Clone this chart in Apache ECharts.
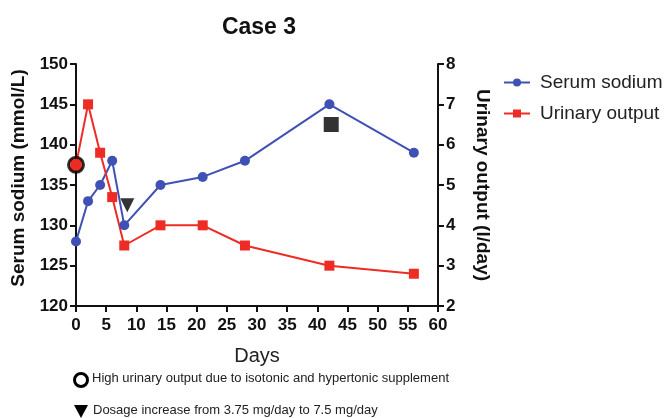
<!DOCTYPE html>
<html><head><meta charset="utf-8">
<script src="https://cdn.jsdelivr.net/npm/echarts@6/dist/echarts.min.js"></script>
<style>html,body{margin:0;padding:0;background:#fff}#c{width:670px;height:418px}</style>
</head><body><div id="c"></div>
<script>
const days = [0, 2, 4, 6, 8, 14, 21, 28, 42, 56];
const serumSodium = [128, 133, 135, 138, 130, 135, 136, 138, 145, 139];
const urinaryOutput = [5.5, 7.0, 5.8, 4.7, 3.5, 4.0, 4.0, 3.5, 3.0, 2.8];
const circleNote = [[0, 5.5]];          // on urinary-output axis
const triangleNote = [[8.5, 132.5]];    // on serum-sodium axis
const squareNote = [[42.3, 142.5]];     // on serum-sodium axis
const noteTexts = ['High urinary output due to isotonic and hypertonic supplement', 'Dosage increase from 3.75 mg/day to 7.5 mg/day'];

const FONT = '"Liberation Sans", Arial, sans-serif';
const BLUE = '#3f51b5', RED = '#ee2b24';
const chart = echarts.init(document.getElementById('c'));
const axisLineStyle = {show: true, lineStyle: {color: '#111', width: 2}};
const tick = {show: true, length: 6, lineStyle: {color: '#111', width: 2}};
const lbl = {fontFamily: FONT, fontSize: 17, fontWeight: 'bold', color: '#111', margin: 8};
chart.setOption({
  animation: false,
  title: {text: 'Case 3', left: 254, top: 11, textAlign: 'center',
    textStyle: {fontFamily: FONT, fontSize: 23, fontWeight: 'bold', color: '#111'}},
  grid: {left: 76, right: 232, top: 64, bottom: 112},
  legend: {orient: 'vertical', left: 498, top: 68, itemGap: 12, itemWidth: 26, itemHeight: 10,
    textStyle: {fontFamily: FONT, fontSize: 19, color: '#222', padding: [0, 0, 0, 5]},
    data: ['Serum sodium', 'Urinary output']},
  xAxis: {type: 'value', min: 0, max: 60, interval: 5,
    name: 'Days', nameLocation: 'middle', nameGap: 40,
    nameTextStyle: {fontFamily: FONT, fontSize: 20, color: '#222'},
    axisLine: axisLineStyle, axisTick: tick,
    axisLabel: Object.assign({}, lbl, {margin: 11}),
    splitLine: {show: false}},
  yAxis: [
    {type: 'value', min: 120, max: 150, interval: 5, position: 'left',
      name: 'Serum sodium (mmol/L)', nameLocation: 'middle', nameGap: 35, nameRotate: 90,
      nameTextStyle: {fontFamily: FONT, fontSize: 19, fontWeight: 'bold', color: '#111', padding: [0, 0, 0, 14]},
      axisLine: axisLineStyle, axisTick: tick, axisLabel: lbl,
      splitLine: {show: false}},
    {type: 'value', min: 2, max: 8, interval: 1, position: 'right',
      name: 'Urinary output (l/day)', nameLocation: 'middle', nameGap: 35, nameRotate: -90,
      nameTextStyle: {fontFamily: FONT, fontSize: 19, fontWeight: 'bold', color: '#111'},
      axisLine: axisLineStyle, axisTick: tick, axisLabel: lbl,
      splitLine: {show: false}}
  ],
  series: [
    {name: 'Serum sodium', type: 'line', yAxisIndex: 0, clip: false,
      data: days.map((d, i) => [d, serumSodium[i]]),
      symbol: 'circle', symbolSize: 10, itemStyle: {color: BLUE},
      lineStyle: {color: BLUE, width: 2}},
    {name: 'Urinary output', type: 'line', yAxisIndex: 1, clip: false,
      data: days.map((d, i) => [d, urinaryOutput[i]]),
      symbol: 'rect', symbolSize: 10, itemStyle: {color: RED},
      lineStyle: {color: RED, width: 2}},
    {type: 'scatter', yAxisIndex: 1, clip: false, data: circleNote, symbol: 'circle', symbolSize: 15,
      itemStyle: {color: RED, borderColor: '#000', borderWidth: 3}, z: 5},
    {type: 'scatter', yAxisIndex: 0, clip: false, data: triangleNote, symbol: 'triangle', symbolRotate: 180, symbolSize: 14,
      itemStyle: {color: '#000'}, z: 5},
    {type: 'scatter', yAxisIndex: 0, clip: false, data: squareNote, symbol: 'rect', symbolSize: 15,
      itemStyle: {color: '#000'}, z: 5}
  ],
  graphic: [
    {type: 'circle', shape: {cx: 81, cy: 380, r: 6.5}, style: {fill: 'none', stroke: '#000', lineWidth: 3}},
    {type: 'text', left: 92, top: 372, style: {text: noteTexts[0], font: '13px ' + FONT, fill: '#222'}},
    {type: 'polygon', shape: {points: [[74, 405], [88, 405], [81, 418]]}, style: {fill: '#000'}},
    {type: 'text', left: 93, top: 404, style: {text: noteTexts[1], font: '13px ' + FONT, fill: '#222'}}
  ]
});
</script></body></html>
